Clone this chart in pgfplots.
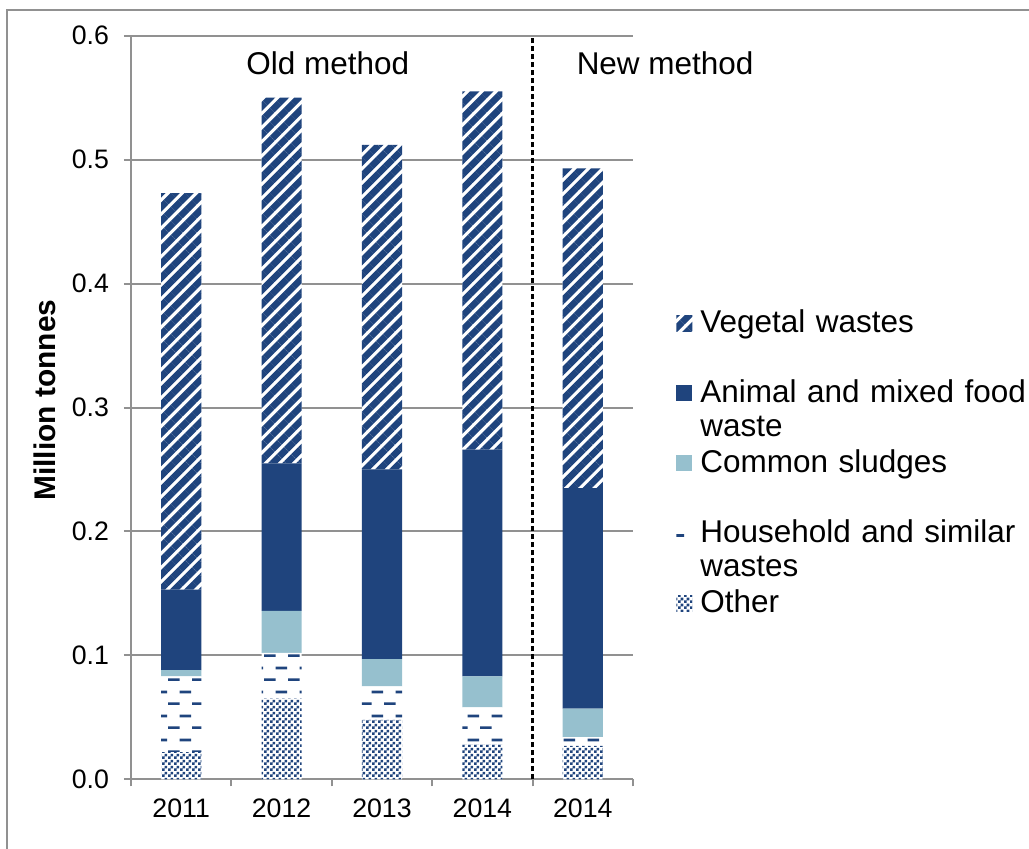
\documentclass[border=0pt]{standalone}
\usepackage{fontspec}
\setmainfont{Liberation Sans}
\usepackage{pgfplots}
\pgfplotsset{compat=1.18}
\usetikzlibrary{patterns.meta}

\definecolor{dblue}{RGB}{31,68,125}
\definecolor{lblue}{RGB}{150,192,206}
\definecolor{axgray}{RGB}{145,145,145}

% staggered short dashes (household)
\pgfdeclarepattern{
  name=hdash,
  bottom left={\pgfpoint{0bp}{0bp}},
  top right={\pgfpoint{12bp}{12bp}},
  tile size={\pgfpoint{12bp}{12bp}},
  code={
    \pgfpathrectangle{\pgfpoint{0bp}{0bp}}{\pgfpoint{6bp}{1.4bp}}
    \pgfpathrectangle{\pgfpoint{6bp}{6bp}}{\pgfpoint{6bp}{1.4bp}}
    \pgfusepath{fill}
  }
}
% checker (other)
\pgfdeclarepattern{
  name=checker,
  bottom left={\pgfpoint{0bp}{0bp}},
  top right={\pgfpoint{3bp}{3bp}},
  tile size={\pgfpoint{3bp}{3bp}},
  code={
    \pgfpathrectangle{\pgfpoint{0bp}{0bp}}{\pgfpoint{1.5bp}{1.5bp}}
    \pgfpathrectangle{\pgfpoint{1.5bp}{1.5bp}}{\pgfpoint{1.5bp}{1.5bp}}
    \pgfusepath{fill}
  }
}

\begin{document}
\begin{tikzpicture}
\useasboundingbox (-65.5bp,-34.85bp) rectangle (449bp,389.65bp);
\draw[axgray, line width=1bp] (-62bp,-40bp) -- (-62bp,384.65bp) -- (455bp,384.65bp);
\begin{axis}[
  scale only axis,
  width=251bp, height=371.8bp,
  ybar stacked, bar width=0.4,
  xmin=-0.5, xmax=4.5, ymin=0, ymax=0.6,
  xtick={0,1,2,3,4},
  xticklabels={2011,2012,2013,2014,2014},
  minor xtick={-0.5,0.5,1.5,2.5,3.5,4.5},
  ytick={0,0.1,0.2,0.3,0.4,0.5,0.6},
  axis x line*=bottom, axis y line*=left,
  axis line style={axgray, line width=1bp},
  tick align=outside,
  major tick length=3.5bp, minor tick length=3.5bp,
  tick style={axgray, line width=1bp},
  major x tick style={draw=none},
  ymajorgrids, grid style={axgray, line width=1bp},
  /pgf/number format/assume math mode=true,
  tick label style={font=\fontsize{13.4}{15}\selectfont},
  yticklabel style={/pgf/number format/fixed, /pgf/number format/fixed zerofill, /pgf/number format/precision=1, xshift=-4bp},
  xticklabel style={yshift=-3bp},
  ylabel={Million tonnes},
  ylabel style={at={(axis description cs:-0.171,0.51)}, anchor=center, font=\fontsize{15}{17}\selectfont\bfseries},
  clip=false,
  legend image code/.code={\path[#1,draw=none] (0bp,6.2bp) rectangle (8bp,14.2bp);},
  reverse legend,
  legend cell align=left,
  legend style={at={(axis description cs:1.0857,0.6333)}, anchor=north west,
    draw=none, fill=none, inner sep=0pt, row sep=0pt, column sep=4bp,
    font=\fontsize{15.8}{17}\selectfont,
    nodes={inner sep=0pt, text width=170bp, align=left, text height=12bp, text depth=23bp}},
]
\addplot[draw=none, fill=white, postaction={pattern=checker, pattern color=dblue}]
  coordinates {(0,0.022) (1,0.065) (2,0.048) (3,0.028) (4,0.027)};
\addlegendentry{Other}
\addplot[draw=none, fill=white, postaction={pattern=hdash, pattern color=dblue}]
  coordinates {(0,0.061) (1,0.037) (2,0.027) (3,0.030) (4,0.007)};
\addlegendentry{Household and similar\\wastes}
\addplot[draw=none, fill=lblue]
  coordinates {(0,0.005) (1,0.034) (2,0.022) (3,0.025) (4,0.023)};
\addlegendentry{Common sludges}
\addplot[draw=none, fill=dblue]
  coordinates {(0,0.065) (1,0.119) (2,0.153) (3,0.183) (4,0.178)};
\addlegendentry{Animal and mixed food\\waste}
\addplot[draw=none, fill=white, postaction={pattern={Lines[angle=45,distance=5bp,line width=3.3bp]}, pattern color=dblue}]
  coordinates {(0,0.320) (1,0.295) (2,0.262) (3,0.289) (4,0.258)};
\addlegendentry{Vegetal wastes}
\draw[black, dashed, dash pattern=on 2.5bp off 1.5bp, line width=1.1bp] (axis cs:3.5,0) -- (axis cs:3.5,0.6);
\node[font=\fontsize{15.8}{17}\selectfont] at (axis cs:1.46,0.578) {Old method};
\node[font=\fontsize{15.8}{17}\selectfont] at (axis cs:4.82,0.578) {New method};
\end{axis}
\end{tikzpicture}
\end{document}
